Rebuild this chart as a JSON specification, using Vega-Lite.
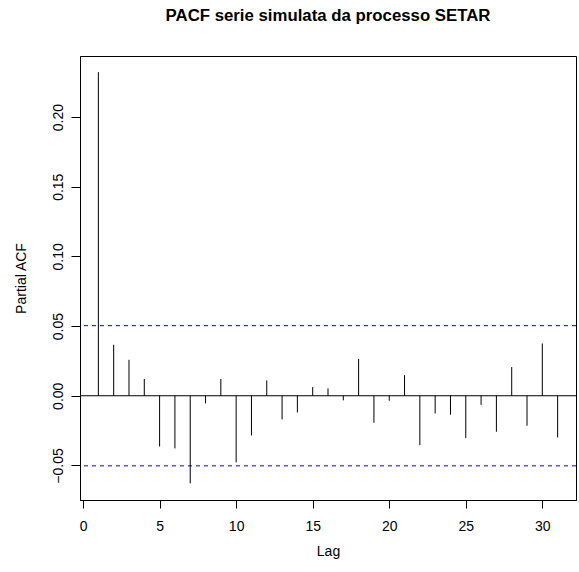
{
  "$schema": "https://vega.github.io/schema/vega-lite/v6.json",
  "autosize": {"type": "none"},
  "padding": {"left": 80, "top": 56, "right": 3, "bottom": 72},
  "width": 496,
  "height": 444,
  "background": "white",
  "title": {
    "text": "PACF serie simulata da processo SETAR",
    "fontSize": 16.8,
    "fontWeight": "bold",
    "font": "Liberation Sans",
    "color": "black",
    "anchor": "middle",
    "frame": "group",
    "baseline": "alphabetic",
    "offset": 18
  },
  "config": {
    "view": {"stroke": "black", "strokeWidth": 1},
    "font": "Liberation Sans",
    "axis": {
      "grid": false,
      "domain": false,
      "tickColor": "black",
      "labelColor": "black",
      "titleColor": "black",
      "labelFont": "Liberation Sans",
      "titleFont": "Liberation Sans",
      "labelFontSize": 14,
      "titleFontSize": 14,
      "titleFontWeight": "normal"
    }
  },
  "datasets": {
    "pacf": [
      {"lag": 1, "pacf": 0.2322},
      {"lag": 2, "pacf": 0.0366},
      {"lag": 3, "pacf": 0.0258},
      {"lag": 4, "pacf": 0.012},
      {"lag": 5, "pacf": -0.0364},
      {"lag": 6, "pacf": -0.0378},
      {"lag": 7, "pacf": -0.0629},
      {"lag": 8, "pacf": -0.0055},
      {"lag": 9, "pacf": 0.012},
      {"lag": 10, "pacf": -0.0478},
      {"lag": 11, "pacf": -0.0285},
      {"lag": 12, "pacf": 0.011},
      {"lag": 13, "pacf": -0.017},
      {"lag": 14, "pacf": -0.012},
      {"lag": 15, "pacf": 0.0062},
      {"lag": 16, "pacf": 0.0053},
      {"lag": 17, "pacf": -0.0033},
      {"lag": 18, "pacf": 0.0265},
      {"lag": 19, "pacf": -0.0194},
      {"lag": 20, "pacf": -0.0036},
      {"lag": 21, "pacf": 0.0148},
      {"lag": 22, "pacf": -0.0354},
      {"lag": 23, "pacf": -0.0127},
      {"lag": 24, "pacf": -0.0136},
      {"lag": 25, "pacf": -0.0304},
      {"lag": 26, "pacf": -0.0065},
      {"lag": 27, "pacf": -0.0258},
      {"lag": 28, "pacf": 0.0206},
      {"lag": 29, "pacf": -0.0215},
      {"lag": 30, "pacf": 0.0375},
      {"lag": 31, "pacf": -0.0299}
    ],
    "clim": [
      {"level": 0.0503},
      {"level": -0.0503}
    ],
    "zero": [
      {"level": 0}
    ]
  },
  "layer": [
    {
      "data": {"name": "zero"},
      "mark": {"type": "rule", "color": "black", "strokeWidth": 1},
      "encoding": {
        "y": {"field": "level", "type": "quantitative", "scale": {"domain": [-0.0748, 0.2438], "nice": false, "zero": false}}
      }
    },
    {
      "data": {"name": "clim"},
      "mark": {"type": "rule", "color": "#0000ff", "strokeWidth": 1, "strokeDash": [4, 4]},
      "encoding": {
        "y": {"field": "level", "type": "quantitative"}
      }
    },
    {
      "data": {"name": "pacf"},
      "mark": {"type": "rule", "color": "black", "strokeWidth": 1},
      "encoding": {
        "x": {
          "field": "lag", "type": "quantitative",
          "scale": {"domain": [-0.2, 32.2], "nice": false, "zero": false},
          "axis": {"values": [0, 5, 10, 15, 20, 25, 30], "title": "Lag", "tickSize": 8, "labelPadding": 11, "titlePadding": 11, "domain": true, "domainColor": "black"}
        },
        "y": {
          "field": "pacf", "type": "quantitative",
          "axis": {"values": [-0.05, 0, 0.05, 0.1, 0.15, 0.2], "format": ".2f", "title": "Partial ACF", "tickSize": 9, "labelPadding": 6, "labelAngle": -90, "labelAlign": "center", "labelBaseline": "bottom", "titlePadding": 23, "domain": true, "domainColor": "black"}
        },
        "y2": {"datum": 0}
      }
    }
  ]
}
